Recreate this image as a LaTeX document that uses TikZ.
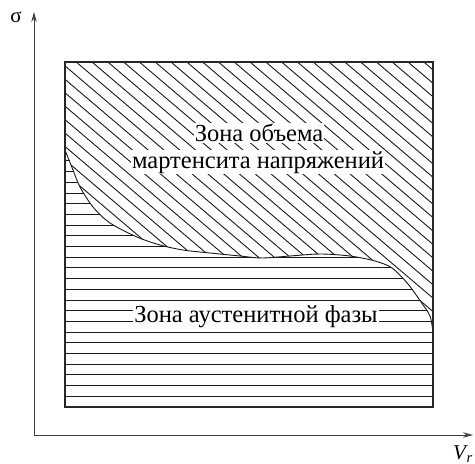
\documentclass[tikz,border=0pt]{standalone}
\usepackage{fontspec}
\setmainfont{Liberation Serif}
\newfontfamily\lserif{Liberation Serif}
\usetikzlibrary{arrows.meta}
\begin{document}
\begin{tikzpicture}[x=1pt,y=-1pt,
  hatch/.style={line width=0.9pt, black!90},
  boundary/.style={line width=0.9pt, black!90},
  frame/.style={line width=1.5pt, black!85},
  axis/.style={line width=1pt, black!75, -{Stealth[length=10pt,width=5.5pt]}},
  lbl/.style={fill=white, inner sep=1pt, font=\lserif\fontsize{24.5}{28}\selectfont},
  axlbl/.style={inner sep=0pt, font=\lserif\fontsize{21}{24}\selectfont}]
\useasboundingbox (0,0) rectangle (475,464);
\def\crv{(433,332) (430,316) (421,302) (408,284) (392,268) (375,261) (350,256) (320,254) (290,256) (262,258) (240,256) (210,253) (183,250) (160,245) (137,237) (110,223) (93,207) (80,187) (73,170) (65,150)}
% martensite zone (diagonal hatch)
\begin{scope}
  \clip (65,62) -- (433,62) -- plot[smooth, tension=0.5] coordinates {\crv} -- cycle;
  \foreach \i in {-36,...,13} \draw[hatch] ({250+15.8*\i},62) -- ++(500,425);
\end{scope}
% austenite zone (horizontal hatch)
\begin{scope}
  \clip (65,407) -- (433,407) -- plot[smooth, tension=0.5] coordinates {\crv} -- cycle;
  \foreach \k in {1,...,25} \draw[hatch] (60,{407-10.7*\k}) -- (440,{407-10.7*\k});
\end{scope}
\draw[boundary] plot[smooth, tension=0.5] coordinates {\crv};
\draw[frame] (65,62) rectangle (433,407);
% axes
\coordinate (o) at (34,435);
\coordinate (ytip) at (34,12);
\coordinate (xtip) at (473,435);
\draw[axis] (o) -- (ytip);
\draw[axis] (o) -- (xtip);
\node[axlbl] (sigma) at (16,17) {σ};
\node[axlbl, anchor=base east] (vr) at (473,459) {\textit{V}\textsubscript{\kern-1.5pt\textit{r}}};
% labels
\node[lbl, anchor=base] (t1) at (259,141.5) {Зона объема};
\node[lbl, anchor=base] (t2) at (258,168) {мартенсита напряжений};
\node[lbl, anchor=base] (t3) at (256,322) {Зона аустенитной фазы};
\end{tikzpicture}
\end{document}
